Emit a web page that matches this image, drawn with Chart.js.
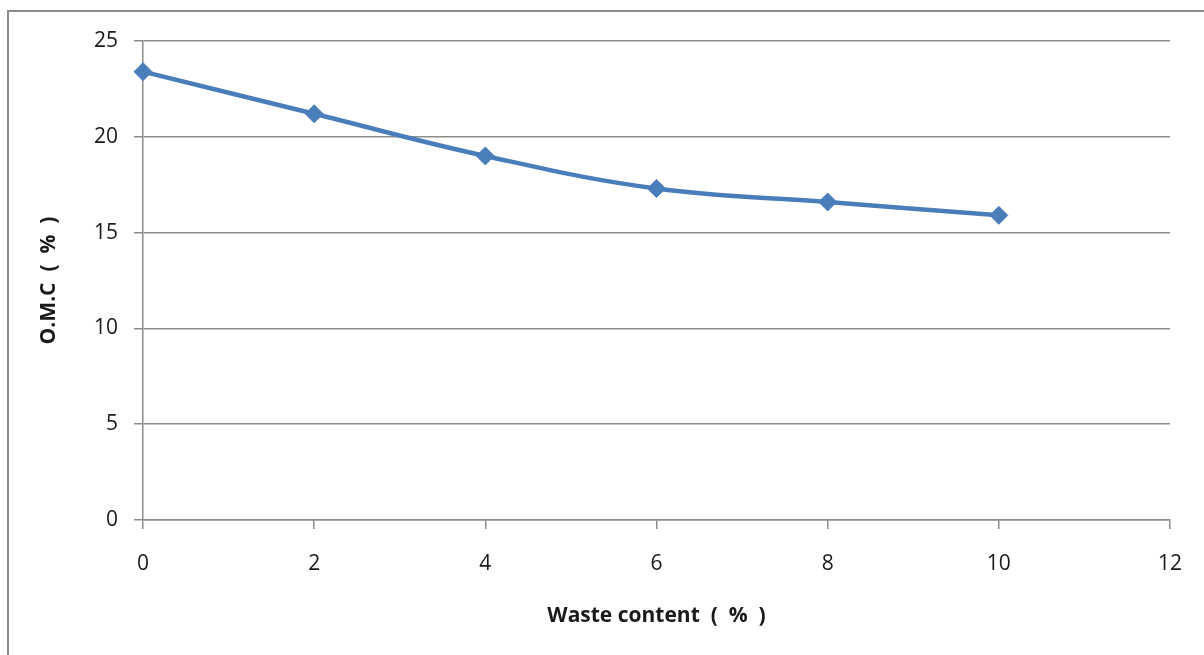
<!DOCTYPE html>
<html>
<head>
<meta charset="utf-8">
<script src="https://cdn.jsdelivr.net/npm/chart.js@4/dist/chart.umd.min.js"></script>
<style>
  body { margin: 0; background: #fff; overflow: hidden; }
  #frame { position: absolute; left: 7px; top: 10px; width: 1300px; height: 1000px; border: 2px solid #8a8a8a; }
  #wrap { position: absolute; left: 0; top: 0; width: 1204px; height: 655px; }
</style>
</head>
<body>
<div id="frame"></div>
<div id="wrap"><canvas id="myChart" width="1204" height="655"></canvas></div>
<script>
// data
var wasteContent = [0, 2, 4, 6, 8, 10];
var omc = [23.4, 21.2, 19.0, 17.3, 16.6, 15.9];
var xTicks = [0, 2, 4, 6, 8, 10, 12];
var yTicks = [0, 5, 10, 15, 20, 25];

var points = wasteContent.map(function(x, i) {
   return { x: x, y: omc[i] };
});

var tickFont = { family: "'Open Sans', 'Liberation Sans', sans-serif", size: 21 };
var titleFont = { family: "'Open Sans', 'Liberation Sans', sans-serif", size: 21, weight: 'bold' };

var ctx = document.getElementById("myChart").getContext("2d");
var myChart = new Chart(ctx, {
   type: 'line',
   data: {
      datasets: [{
         label: "O.M.C",
         data: points,
         borderWidth: 4.5,
         borderColor: "#4a7ebb",
         backgroundColor: "#4a7ebb",
         pointStyle: 'rectRot',
         pointRadius: 9,
         pointBorderWidth: 1,
         pointBackgroundColor: "#4a7ebb",
         pointBorderColor: "#4a7ebb",
         tension: 0.4,
         fill: false,
         clip: false
      }]
   },
   options: {
      responsive: false,
      animation: false,
      layout: { padding: { left: 0, top: 41, right: 31, bottom: 0 } },
      plugins: {
         legend: { display: false },
         tooltip: { enabled: false }
      },
      scales: {
         x: {
            type: 'linear',
            min: 0,
            max: 12,
            afterBuildTicks: function(scale) {
               scale.ticks = xTicks.map(function(v) { return { value: v }; });
            },
            afterFit: function(scale) { scale.height = 135; },
            grid: {
               drawOnChartArea: false,
               drawTicks: true,
               tickLength: 9,
               color: "#8c8c8c",
               lineWidth: 1.5
            },
            border: { color: "#8c8c8c", width: 1.5 },
            ticks: { font: tickFont, color: "#1a1a1a", padding: 22, maxRotation: 0 },
            title: {
               display: true,
               text: "Waste content  (  %  )",
               font: titleFont,
               color: "#1a1a1a",
               padding: { top: 0, bottom: 26 }
            }
         },
         y: {
            type: 'linear',
            min: 0,
            max: 25,
            afterBuildTicks: function(scale) {
               scale.ticks = yTicks.map(function(v) { return { value: v }; });
            },
            afterFit: function(scale) { scale.width = 143; },
            grid: {
               drawOnChartArea: true,
               drawTicks: true,
               tickLength: 9,
               color: "#8c8c8c",
               lineWidth: 1.5
            },
            border: { color: "#8c8c8c", width: 1.5 },
            ticks: { font: tickFont, color: "#1a1a1a", padding: 16 },
            title: {
               display: true,
               text: "O.M.C  (  %  )",
               font: titleFont,
               color: "#1a1a1a",
               padding: { top: 36, bottom: 0 }
            }
         }
      }
   }
});
</script>
</body>
</html>
